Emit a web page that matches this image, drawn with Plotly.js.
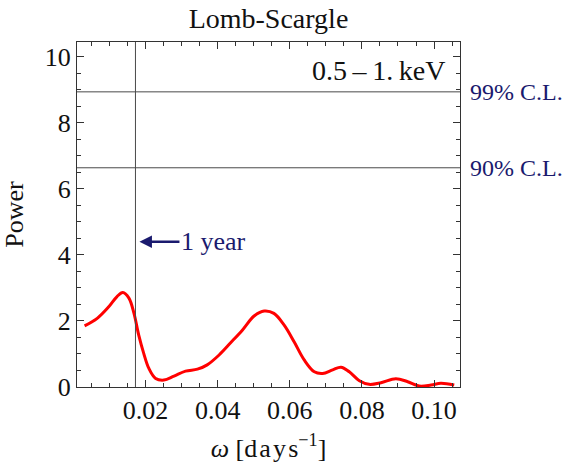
<!DOCTYPE html>
<html>
<head>
<meta charset="utf-8">
<script src="https://cdn.plot.ly/plotly-3.0.1.min.js"></script>
<style>html,body{margin:0;padding:0;background:#fff;}</style>
</head>
<body>
<div id="chart" style="width:568px;height:466px;"></div>
<script>
// Lomb-Scargle periodogram, 0.5-1 keV band
const omega = [0.0031, 0.0066, 0.0098, 0.0121, 0.0137, 0.0154, 0.0168, 0.0181, 0.0195, 0.0209,
  0.0228, 0.0251, 0.0279, 0.0311, 0.0344, 0.0371, 0.0404, 0.0436, 0.0469, 0.0501,
  0.0529, 0.0556, 0.0584, 0.0612, 0.0640, 0.0668, 0.0691, 0.0719, 0.0742, 0.0765,
  0.0793, 0.0820, 0.0853, 0.0894, 0.0927, 0.0959, 0.0992, 0.1019, 0.1056];
const power = [1.85, 2.08, 2.43, 2.74, 2.86, 2.69, 2.23, 1.58, 1.02, 0.57,
  0.26, 0.21, 0.33, 0.48, 0.54, 0.67, 0.97, 1.34, 1.73, 2.15,
  2.30, 2.23, 1.88, 1.37, 0.82, 0.46, 0.41, 0.52, 0.60, 0.46,
  0.19, 0.08, 0.13, 0.25, 0.16, 0.03, 0.06, 0.11, 0.06];
const xTickVals = [0.02, 0.04, 0.06, 0.08, 0.10];
const xTickText = ["0.02", "0.04", "0.06", "0.08", "0.10"];
const yTickVals = [0, 2, 4, 6, 8, 10];
const yTickText = ["0", "2", "4", "6", "8", "10"];
const cl99 = 8.94;
const cl90 = 6.64;
const oneYear = 0.01721; // 2*pi/365 days^-1
const clLabels = ["99% C.L.", "90% C.L."];
const bandLabel = "0.5\u2009\u2013\u20091.\u2009keV";

const navy = "#1a1a6e";
const serif = "Liberation Serif, Times New Roman, serif";
const lineCol = "#4a4a4a";

const trace = {
  x: omega, y: power, type: "scatter", mode: "lines",
  line: {color: "#ff0000", width: 3, shape: "spline", smoothing: 1},
  hoverinfo: "skip"
};

const axisCommon = {
  showgrid: false, zeroline: false, showline: true, linecolor: "#333", linewidth: 1,
  ticks: "inside", mirror: "ticks", ticklen: 7, tickcolor: "#333", tickwidth: 1,
  tickfont: {family: serif, size: 26, color: "#111"},
};

const layout = {
  width: 568, height: 466,
  margin: {l: 77, r: 108, t: 42, b: 79},
  paper_bgcolor: "#fff", plot_bgcolor: "#fff",
  showlegend: false,
  title: {text: "Lomb-Scargle", font: {family: serif, size: 28, color: "#111"},
          x: 0.5, xref: "paper", xanchor: "center", y: 0.962, yanchor: "middle"},
  xaxis: Object.assign({}, axisCommon, {
    range: [0.001, 0.1072], tickmode: "array", tickvals: xTickVals, ticktext: xTickText,
    minor: {dtick: 0.005, tick0: 0, ticks: "inside", ticklen: 4, tickcolor: "#333"},
    title: {text: "<i>\u03c9</i> [d\u200aa\u200ay\u200as<sup>\u22121</sup>]", font: {family: serif, size: 26, color: "#111"}, standoff: 14}
  }),
  yaxis: Object.assign({}, axisCommon, {
    range: [0, 10.45], tickmode: "array", tickvals: yTickVals, ticktext: yTickText,
    minor: {dtick: 0.5, tick0: 0, ticks: "inside", ticklen: 4, tickcolor: "#333"},
    title: {text: "Power", font: {family: serif, size: 26, color: "#111"}, standoff: 14}
  }),
  shapes: [
    {type: "line", xref: "paper", x0: 0, x1: 1, yref: "y", y0: cl99, y1: cl99, line: {color: lineCol, width: 1}},
    {type: "line", xref: "paper", x0: 0, x1: 1, yref: "y", y0: cl90, y1: cl90, line: {color: lineCol, width: 1}},
    {type: "line", xref: "x", x0: oneYear, x1: oneYear, yref: "paper", y0: 0, y1: 1, line: {color: lineCol, width: 1}}
  ],
  annotations: [
    {xref: "paper", x: 1, yref: "y", y: cl99, xanchor: "left", yanchor: "middle", xshift: 8,
     text: clLabels[0], showarrow: false, font: {family: serif, size: 24, color: navy}},
    {xref: "paper", x: 1, yref: "y", y: cl90, xanchor: "left", yanchor: "middle", xshift: 8,
     text: clLabels[1], showarrow: false, font: {family: serif, size: 24, color: navy}},
    {xref: "paper", x: 1, yref: "y", y: 9.6, xanchor: "right", yanchor: "middle", xshift: -13,
     text: bandLabel, showarrow: false, font: {family: serif, size: 28, color: "#111"}},
    {xref: "x", x: oneYear, yref: "y", y: 4.4, xshift: 4, showarrow: true, axref: "pixel", ayref: "pixel",
     ax: 40, ay: 0, xanchor: "left", yanchor: "middle", text: "1 year",
     font: {family: serif, size: 26, color: navy},
     arrowcolor: navy, arrowwidth: 2.5, arrowhead: 2, arrowsize: 1, standoff: 0, startstandoff: 0}
  ]
};

Plotly.newPlot("chart", [trace], layout, {displayModeBar: false, staticPlot: true});
</script>
</body>
</html>
